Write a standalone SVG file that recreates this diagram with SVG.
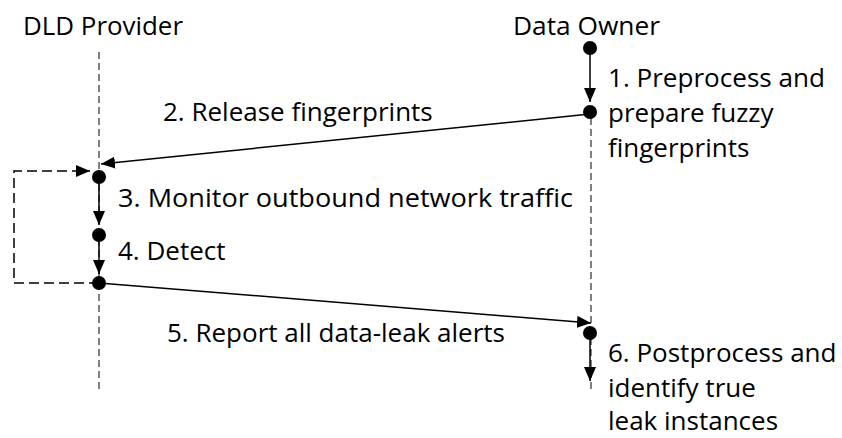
<svg xmlns="http://www.w3.org/2000/svg" width="842" height="438" viewBox="0 0 842 438">
<defs>
<marker id="ah" viewBox="0 0 14 12" refX="14" refY="6" markerWidth="14" markerHeight="12" markerUnits="userSpaceOnUse" orient="auto"><path d="M0,0 L14,6 L0,12 z" fill="#000"/></marker>
<style>
text{font-family:"Open Sans","Liberation Sans",sans-serif;font-size:26px;fill:#000}
.life{stroke:#000;stroke-width:1;stroke-dasharray:7 4;fill:none}
.arr{stroke:#000;stroke-width:1.5;fill:none;marker-end:url(#ah)}
.loop{stroke:#000;stroke-width:1.5;stroke-dasharray:10 5;fill:none;marker-end:url(#ah)}
.dot{fill:#000}
</style>
</defs>
<rect width="842" height="438" fill="#fff"/>
<g id="dld-provider">
<text x="23" y="35" textLength="160" lengthAdjust="spacingAndGlyphs">DLD Provider</text>
<line class="life" x1="99" y1="52" x2="99" y2="390"/>
</g>
<g id="data-owner">
<text x="513" y="35" textLength="147" lengthAdjust="spacingAndGlyphs">Data Owner</text>
<line class="life" x1="591" y1="118" x2="591" y2="390"/>
</g>
<g id="connectors">
<line class="arr" x1="590" y1="48" x2="590" y2="102"/>
<line class="arr" x1="590" y1="114" x2="101" y2="164"/>
<line class="arr" x1="99" y1="177" x2="99" y2="225"/>
<line class="arr" x1="99" y1="235" x2="99" y2="274"/>
<polyline class="loop" points="99,283 14,283 14,171 90,171"/>
<line class="arr" x1="99" y1="283" x2="591" y2="323"/>
<line class="arr" x1="590" y1="333" x2="590" y2="381"/>
</g>
<g id="step1">
<circle class="dot" cx="590" cy="48" r="7"/>
<circle class="dot" cx="590" cy="112" r="7"/>
<text x="608" y="87" textLength="217" lengthAdjust="spacingAndGlyphs">1. Preprocess and</text>
<text x="608" y="122">prepare fuzzy</text>
<text x="608" y="157">fingerprints</text>
</g>
<g id="step2">
<text x="163" y="121">2. Release fingerprints</text>
</g>
<g id="step3">
<circle class="dot" cx="99" cy="177" r="7"/>
<text x="118" y="207" textLength="455" lengthAdjust="spacingAndGlyphs">3. Monitor outbound network traffic</text>
</g>
<g id="step4">
<circle class="dot" cx="99" cy="235" r="7"/>
<text x="118" y="260">4. Detect</text>
</g>
<g id="step5">
<circle class="dot" cx="99" cy="283" r="7"/>
<text x="167" y="342">5. Report all data-leak alerts</text>
</g>
<g id="step6">
<circle class="dot" cx="590" cy="333" r="7"/>
<text x="608" y="362">6. Postprocess and</text>
<text x="608" y="397">identify true</text>
<text x="608" y="430">leak instances</text>
</g>
</svg>
